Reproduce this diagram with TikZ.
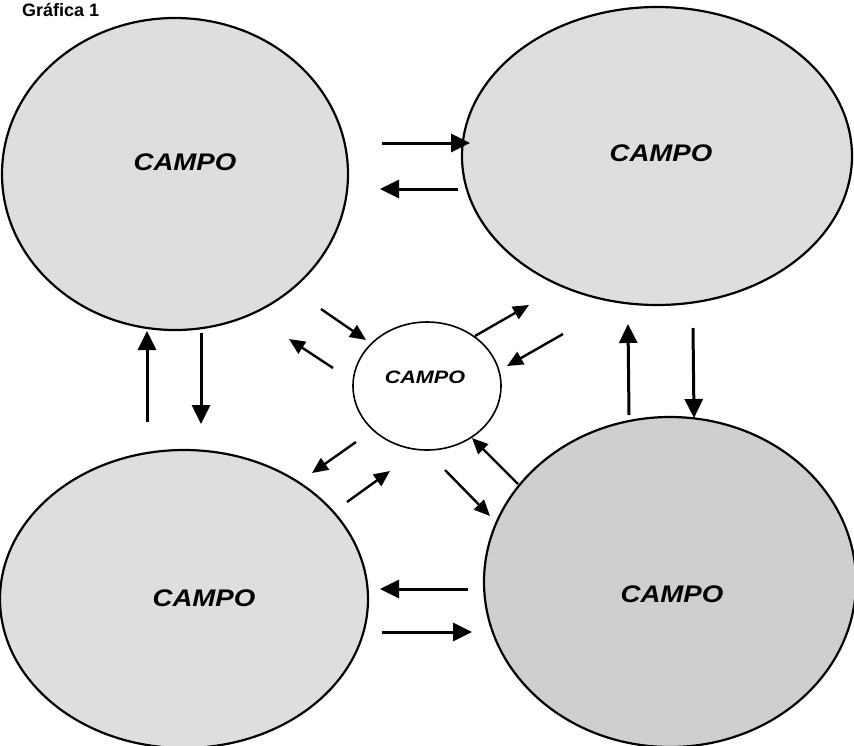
\documentclass[tikz,border=0pt]{standalone}
\usepackage{fontspec}
\setmainfont{Liberation Sans}
\usetikzlibrary{shapes.geometric,arrows.meta}
\tikzset{
  campo/.style={draw=black, line width=2.2pt, ellipse, inner sep=0pt, fill=black!13},
  small/.style={draw=black, line width=1.6pt, ellipse, inner sep=0pt, fill=white},
  biglabel/.style={font=\fontsize{24}{24}\selectfont\bfseries\itshape, xscale=1.15},
  smalllabel/.style={font=\fontsize{18}{18}\selectfont\bfseries\itshape, xscale=1.2},
  bigarrow/.style={line width=3pt, -{Triangle[length=19pt,width=18pt]}},
  diagarrow/.style={line width=2.4pt, -{Triangle[length=16pt,width=14pt]}},
}
\begin{document}
\begin{tikzpicture}[x=1pt,y=-1pt]
\useasboundingbox (0,0) rectangle (854,745);
\clip (0,0) rectangle (854,745);
% title
\node[anchor=base west, inner sep=0pt, font=\fontsize{18}{18}\selectfont\bfseries] (title) at (22,16) {Gráfica 1};
% fields
\node[campo, minimum width=346pt, minimum height=312pt] (tl) at (175,174) {};
\node[campo, minimum width=390pt, minimum height=298pt] (tr) at (657,156) {};
\node[campo, minimum width=368pt, minimum height=298pt] (bl) at (184,599) {};
\node[campo, fill=black!19, minimum width=372pt, minimum height=330pt] (br) at (670,582) {};
\node[small, minimum width=148pt, minimum height=128pt] (c) at (427,386) {};
% labels
\node[biglabel] (ltl) at (185,162) {CAMPO};
\node[biglabel] (ltr) at (661,153) {CAMPO};
\node[biglabel] (lbl) at (204,598) {CAMPO};
\node[biglabel] (lbr) at (672,594) {CAMPO};
\node[smalllabel] (lc) at (425,377) {CAMPO};
% top pair
\coordinate (t1a) at (382,143); \coordinate (t1b) at (470,143);
\coordinate (t2a) at (458,189); \coordinate (t2b) at (380,189);
\draw[bigarrow] (t1a) -- (t1b);
\draw[bigarrow] (t2a) -- (t2b);
% bottom pair
\coordinate (b1a) at (468,589); \coordinate (b1b) at (380,589);
\coordinate (b2a) at (382,632); \coordinate (b2b) at (472,632);
\draw[bigarrow] (b1a) -- (b1b);
\draw[bigarrow] (b2a) -- (b2b);
% left pair
\coordinate (l1a) at (147,422); \coordinate (l1b) at (147,331);
\coordinate (l2a) at (201,333); \coordinate (l2b) at (201,424);
\draw[bigarrow] (l1a) -- (l1b);
\draw[bigarrow] (l2a) -- (l2b);
% right pair
\coordinate (r1a) at (629,415); \coordinate (r1b) at (628,324);
\coordinate (r2a) at (693,328); \coordinate (r2b) at (694,418);
\draw[bigarrow] (r1a) -- (r1b);
\draw[bigarrow] (r2a) -- (r2b);
% diagonal arrows around the centre
\coordinate (d1a) at (321,309); \coordinate (d1b) at (366,340);
\coordinate (d2a) at (333,368); \coordinate (d2b) at (289,339);
\coordinate (d3a) at (475,336); \coordinate (d3b) at (529,305);
\coordinate (d4a) at (563,334); \coordinate (d4b) at (507,366);
\coordinate (d5a) at (356,442); \coordinate (d5b) at (312,473);
\coordinate (d6a) at (347,502); \coordinate (d6b) at (390,471);
\coordinate (d7a) at (445,470); \coordinate (d7b) at (490,516);
\coordinate (d8a) at (518,484); \coordinate (d8b) at (472,438);
\foreach \i in {1,...,8} {\draw[diagarrow] (d\i a) -- (d\i b);}
\end{tikzpicture}
\end{document}
